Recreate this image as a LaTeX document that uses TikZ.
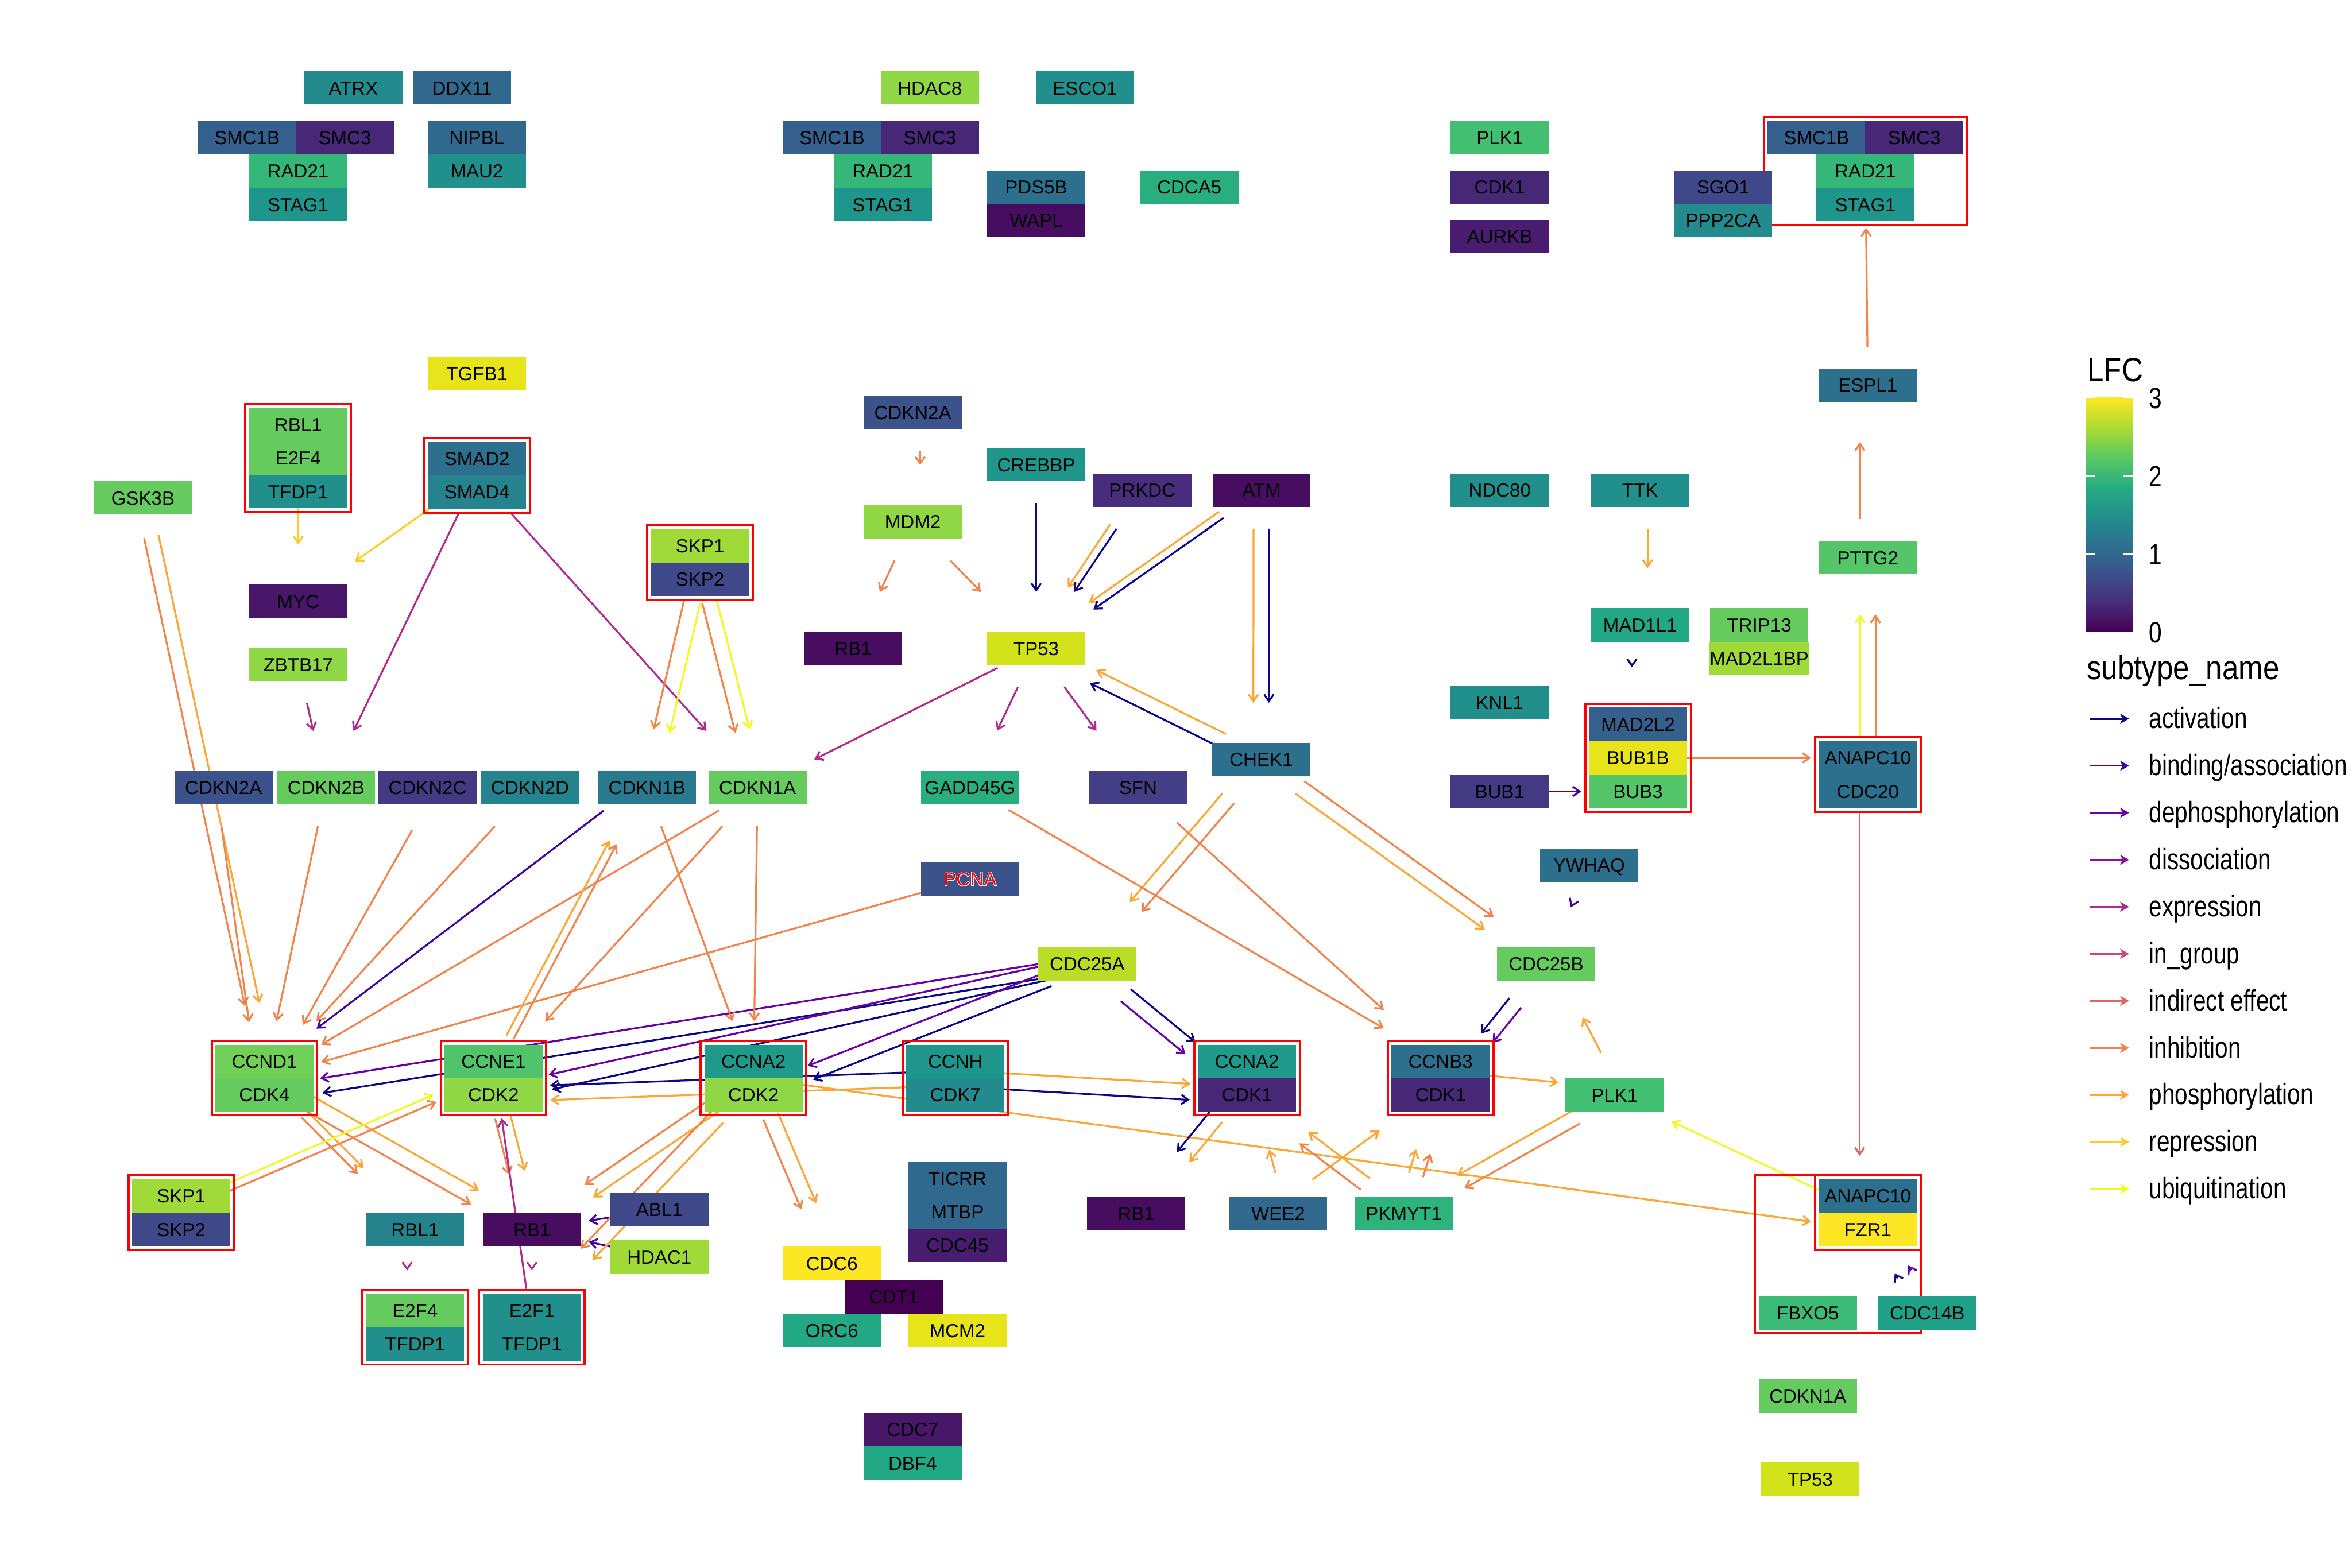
\documentclass[tikz,border=0pt]{standalone}
\usepackage{fontspec}
\setmainfont{Liberation Sans}
\newfontfamily\legtitlefont[FakeStretch=0.87]{Liberation Sans}
\newfontfamily\legfont[FakeStretch=0.79]{Liberation Sans}
\newfontfamily\halofont[FakeBold=6]{Liberation Sans}
\usetikzlibrary{arrows.meta,calc,fit}
\pgfdeclarelayer{bglayer}
\pgfdeclarelayer{edgelayer}
\pgfsetlayers{bglayer,edgelayer,main}
\definecolor{vir00}{HTML}{440154}
\definecolor{vir01}{HTML}{470D60}
\definecolor{vir02}{HTML}{481769}
\definecolor{vir03}{HTML}{481C6E}
\definecolor{vir04}{HTML}{472877}
\definecolor{vir05}{HTML}{472D7B}
\definecolor{vir06}{HTML}{443983}
\definecolor{vir07}{HTML}{433E85}
\definecolor{vir08}{HTML}{3F4889}
\definecolor{vir09}{HTML}{3B528B}
\definecolor{vir10}{HTML}{355F8D}
\definecolor{vir11}{HTML}{31688E}
\definecolor{vir12}{HTML}{2D708E}
\definecolor{vir13}{HTML}{297A8E}
\definecolor{vir14}{HTML}{25838E}
\definecolor{vir15}{HTML}{238A8D}
\definecolor{vir16}{HTML}{21908D}
\definecolor{vir17}{HTML}{1F968B}
\definecolor{vir18}{HTML}{1F9A8A}
\definecolor{vir19}{HTML}{1FA088}
\definecolor{vir20}{HTML}{22A884}
\definecolor{vir21}{HTML}{29AF7F}
\definecolor{vir22}{HTML}{2EB37C}
\definecolor{vir23}{HTML}{35B779}
\definecolor{vir24}{HTML}{3BBB75}
\definecolor{vir25}{HTML}{43BF71}
\definecolor{vir26}{HTML}{50C46A}
\definecolor{vir27}{HTML}{54C568}
\definecolor{vir28}{HTML}{65CB5E}
\definecolor{vir29}{HTML}{70CF57}
\definecolor{vir30}{HTML}{8FD744}
\definecolor{vir31}{HTML}{A0DA39}
\definecolor{vir32}{HTML}{BADE28}
\definecolor{vir33}{HTML}{D2E21B}
\definecolor{vir34}{HTML}{E7E419}
\definecolor{vir35}{HTML}{FDE725}
\definecolor{cb0}{HTML}{440154}
\definecolor{cb1}{HTML}{472D7B}
\definecolor{cb2}{HTML}{3B528B}
\definecolor{cb3}{HTML}{2C728E}
\definecolor{cb4}{HTML}{21918C}
\definecolor{cb5}{HTML}{28AE80}
\definecolor{cb6}{HTML}{5EC962}
\definecolor{cb7}{HTML}{ADDC30}
\definecolor{cb8}{HTML}{FDE725}
\definecolor{actc}{HTML}{0D0887}
\definecolor{bindc}{HTML}{41049D}
\definecolor{dephc}{HTML}{6A00A8}
\definecolor{dissc}{HTML}{8F0DA4}
\definecolor{exprc}{HTML}{B12A90}
\definecolor{ingrc}{HTML}{CC4778}
\definecolor{indc}{HTML}{E16462}
\definecolor{inhc}{HTML}{F2844B}
\definecolor{phosc}{HTML}{FCA636}
\definecolor{repc}{HTML}{FCCE25}
\definecolor{ubqc}{HTML}{F0F921}
\tikzset{
  gene/.style={rectangle,minimum width=1.308cm,minimum height=0.446cm,inner sep=0pt,outer sep=0pt,
    text height=5.15pt,text depth=0pt,font=\fontsize{7.2}{8}\selectfont},
  grp/.style={rectangle,draw=red,line width=0.85pt,inner sep=0.05cm},
  lane/.store in=\lanesep, lane=0pt,
  link/.style={line width=0.7pt,-{Straight Barb[length=2.6pt,width=3.6pt]},
    to path={let \p1=(\tikztostart), \p2=(\tikztotarget),
      \p4=($(\p1)!\lanesep!90:(\p2)$), \p5=($(\p2)!\lanesep!-90:(\p1)$),
      \n1={veclen(\x2-\x1,\y2-\y1)/max(abs(\x2-\x1),abs(\y2-\y1))}
      in ($(\p4)!{14.63pt*\n1}!(\p5)$) -- ($(\p5)!{21.54pt*\n1}!(\p4)$)}},
  eact/.style={draw=actc},
  ebind/.style={draw=bindc},
  edeph/.style={draw=dephc},
  ediss/.style={draw=dissc},
  eexpr/.style={draw=exprc},
  eingr/.style={draw=ingrc},
  eind/.style={draw=indc},
  einh/.style={draw=inhc},
  ephos/.style={draw=phosc},
  erep/.style={draw=repc},
  eubq/.style={draw=ubqc},
  legarr/.style={line width=0.75pt,-{Stealth[length=3.4pt,width=3.8pt,inset=0.9pt]}},
  legtext/.style={anchor=base west,inner sep=0pt,font={\legfont\fontsize{11.2}{13}\selectfont}},
  legtitle/.style={anchor=base west,inner sep=0pt,font={\legtitlefont\fontsize{12.8}{14}\selectfont}}
}
\begin{document}
\begin{tikzpicture}[x=0.02cm,y=-0.02cm]
\useasboundingbox (0,0) rectangle (1568,1045.3);
\begin{pgfonlayer}{bglayer}
\fill[white] (0,0) rectangle (1568,1045.3);
\end{pgfonlayer}

\node[gene,fill=vir15] (atrx) at (235.6,58.7) {ATRX};
\node[gene,fill=vir11] (ddx11) at (308,58.7) {DDX11};
\node[gene,fill=vir10] (smc1bL) at (164.7,91.7) {SMC1B};
\node[gene,fill=vir04] (smc3L) at (229.9,91.7) {SMC3};
\node[gene,fill=vir23] (rad21L) at (198.7,114.1) {RAD21};
\node[gene,fill=vir17] (stag1L) at (198.7,136.4) {STAG1};
\node[gene,fill=vir11] (nipbl) at (317.9,91.7) {NIPBL};
\node[gene,fill=vir16] (mau2) at (317.9,114.1) {MAU2};
\node[gene,fill=vir30] (hdac8) at (619.9,58.7) {HDAC8};
\node[gene,fill=vir16] (esco1) at (723.3,58.7) {ESCO1};
\node[gene,fill=vir10] (smc1bM) at (554.7,91.7) {SMC1B};
\node[gene,fill=vir04] (smc3M) at (619.9,91.7) {SMC3};
\node[gene,fill=vir23] (rad21M) at (588.6,114.1) {RAD21};
\node[gene,fill=vir17] (stag1M) at (588.6,136.4) {STAG1};
\node[gene,fill=vir12] (pds5b) at (690.8,124.7) {PDS5B};
\node[gene,fill=vir01] (wapl) at (690.8,147) {WAPL};
\node[gene,fill=vir21] (cdca5) at (792.9,124.7) {CDCA5};
\node[gene,fill=vir25] (plk1T) at (999.8,91.7) {PLK1};
\node[gene,fill=vir04] (cdk1T) at (999.8,124.7) {CDK1};
\node[gene,fill=vir03] (aurkb) at (999.8,157.7) {AURKB};
\node[gene,fill=vir10] (smc1bR) at (1211,91.7) {SMC1B};
\node[gene,fill=vir04] (smc3R) at (1276.2,91.7) {SMC3};
\node[gene,fill=vir23] (rad21R) at (1243.6,114.1) {RAD21};
\node[gene,fill=vir17] (stag1R) at (1243.6,136.4) {STAG1};
\node[gene,fill=vir12] (espl1) at (1245.2,256.9) {ESPL1};
\node[gene,fill=vir27] (pttg2) at (1245.2,371.8) {PTTG2};

\node[gene,fill=vir34] (tgfb1) at (318,249) {TGFB1};
\node[gene,fill=vir28] (rbl1T) at (198.8,283.2) {RBL1};
\node[gene,fill=vir28] (e2f4T) at (198.8,305.5) {E2F4};
\node[gene,fill=vir16] (tfdp1T) at (198.8,327.8) {TFDP1};
\node[gene,fill=vir12] (smad2) at (318,305.8) {SMAD2};
\node[gene,fill=vir14] (smad4) at (318,328.1) {SMAD4};
\node[gene,fill=vir28] (gsk3b) at (95.3,332) {GSK3B};
\node[gene,fill=vir02] (myc) at (198.8,401) {MYC};
\node[gene,fill=vir30] (zbtb17) at (198.8,443) {ZBTB17};
\node[gene,fill=vir31] (skp1T) at (466.7,364) {SKP1};
\node[gene,fill=vir08] (skp2T) at (466.7,386.3) {SKP2};
\node[gene,fill=vir09] (cdkn2aT) at (608.5,275.3) {CDKN2A};
\node[gene,fill=vir17] (crebbp) at (690.8,309.8) {CREBBP};
\node[gene,fill=vir05] (prkdc) at (761.5,326.8) {PRKDC};
\node[gene,fill=vir01] (atm) at (841,326.8) {ATM};
\node[gene,fill=vir30] (mdm2) at (608.5,348) {MDM2};
\node[gene,fill=vir01] (rb1T) at (568.7,432.5) {RB1};
\node[gene,fill=vir33] (tp53) at (690.8,432.5) {TP53};
\node[gene,fill=vir12] (chek1) at (840.8,506.5) {CHEK1};
\node[gene,fill=vir09] (cdkn2a) at (149,525.2) {CDKN2A};
\node[gene,fill=vir28] (cdkn2b) at (217.4,525.2) {CDKN2B};
\node[gene,fill=vir06] (cdkn2c) at (285,525.2) {CDKN2C};
\node[gene,fill=vir14] (cdkn2d) at (353.4,525.2) {CDKN2D};
\node[gene,fill=vir13] (cdkn1b) at (431.3,525.2) {CDKN1B};
\node[gene,fill=vir28] (cdkn1a) at (505,525.2) {CDKN1A};
\node[gene,fill=vir21] (gadd45g) at (646.7,525) {GADD45G};
\node[gene,fill=vir07] (sfn) at (758.7,525) {SFN};
\node[gene,fill=vir09] (pcna) at (646.7,586) {\makebox[0pt]{\color{white}\halofont PCNA}\makebox[0pt]{\color{red}PCNA}};

\node[gene,fill=vir16] (ndc80) at (999.8,326.9) {NDC80};
\node[gene,fill=vir16] (ttk) at (1093.4,326.9) {TTK};
\node[gene,fill=vir20] (mad1l1) at (1093.4,416.7) {MAD1L1};
\node[gene,fill=vir28] (trip13) at (1172.8,416.7) {TRIP13};
\node[gene,fill=vir31] (mad2l1bp) at (1172.8,439.1) {MAD2L1BP};
\node[gene,fill=vir16] (knl1) at (999.8,468.4) {KNL1};
\node[gene,fill=vir10] (mad2l2) at (1092,482.9) {MAD2L2};
\node[gene,fill=vir34] (bub1b) at (1092,505.3) {BUB1B};
\node[gene,fill=vir27] (bub3) at (1092,527.7) {BUB3};
\node[gene,fill=vir06] (bub1) at (999.8,527.7) {BUB1};
\node[gene,fill=vir12] (anapc10A) at (1245.2,505.3) {ANAPC10};
\node[gene,fill=vir12] (cdc20) at (1245.2,527.7) {CDC20};
\node[gene,fill=vir12] (ywhaq) at (1059.4,576.9) {YWHAQ};
\node[gene,fill=vir28] (cdc25b) at (1030.7,642.8) {CDC25B};
\node[gene,fill=vir32] (cdc25a) at (724.8,642.6) {CDC25A};

\node[gene,fill=vir29] (ccnd1) at (176.3,707.7) {CCND1};
\node[gene,fill=vir28] (cdk4) at (176.3,729.9) {CDK4};
\node[gene,fill=vir26] (ccne1) at (329,707.7) {CCNE1};
\node[gene,fill=vir30] (cdk2E) at (329,729.9) {CDK2};
\node[gene,fill=vir18] (ccna2A) at (502.3,707.7) {CCNA2};
\node[gene,fill=vir30] (cdk2A) at (502.3,729.9) {CDK2};
\node[gene,fill=vir17] (ccnh) at (636.9,707.7) {CCNH};
\node[gene,fill=vir15] (cdk7) at (636.9,729.9) {CDK7};
\node[gene,fill=vir18] (ccna2B) at (831.3,707.7) {CCNA2};
\node[gene,fill=vir04] (cdk1B) at (831.3,729.9) {CDK1};
\node[gene,fill=vir12] (ccnb3) at (960.4,707.7) {CCNB3};
\node[gene,fill=vir04] (cdk1C) at (960.4,729.9) {CDK1};
\node[gene,fill=vir25] (plk1) at (1076.4,730.1) {PLK1};

\node[gene,fill=vir31] (skp1) at (120.8,797.4) {SKP1};
\node[gene,fill=vir08] (skp2) at (120.8,819.7) {SKP2};
\node[gene,fill=vir14] (rbl1) at (276.7,819.8) {RBL1};
\node[gene,fill=vir01] (rb1) at (354.6,819.8) {RB1};
\node[gene,fill=vir08] (abl1) at (439.6,806.6) {ABL1};
\node[gene,fill=vir31] (hdac1) at (439.6,838.2) {HDAC1};
\node[gene,fill=vir28] (e2f4) at (276.7,873.8) {E2F4};
\node[gene,fill=vir16] (tfdp1E) at (276.7,896.1) {TFDP1};
\node[gene,fill=vir16] (e2f1) at (354.6,873.8) {E2F1};
\node[gene,fill=vir16] (tfdp1F) at (354.6,896.1) {TFDP1};
\node[gene,fill=vir11] (ticrr) at (638.3,785.7) {TICRR};
\node[gene,fill=vir11] (mtbp) at (638.3,808) {MTBP};
\node[gene,fill=vir03] (cdc45) at (638.3,830.3) {CDC45};
\node[gene,fill=vir35] (cdc6) at (554.6,842.3) {CDC6};
\node[gene,fill=vir00] (cdt1) at (595.8,864.7) {CDT1};
\node[gene,fill=vir20] (orc6) at (554.6,887.1) {ORC6};
\node[gene,fill=vir34] (mcm2) at (638.3,887.1) {MCM2};
\node[gene,fill=vir02] (cdc7) at (608.4,953.2) {CDC7};
\node[gene,fill=vir20] (dbf4) at (608.4,975.5) {DBF4};
\node[gene,fill=vir01] (rb1R) at (757.4,809) {RB1};
\node[gene,fill=vir11] (wee2) at (852.1,809) {WEE2};
\node[gene,fill=vir22] (pkmyt1) at (935.8,809) {PKMYT1};
\node[gene,fill=vir12] (anapc10B) at (1245.2,797.4) {ANAPC10};
\node[gene,fill=vir35] (fzr1) at (1245.2,819.7) {FZR1};
\node[gene,fill=vir24] (fbxo5) at (1205.2,875.3) {FBXO5};
\node[gene,fill=vir28] (cdkn1aB) at (1205.2,930.8) {CDKN1A};
\node[gene,fill=vir33] (tp53B) at (1206.8,986.3) {TP53};

\node[grp,fit=(smc1bR)(smc3R)(rad21R)(stag1R)] (gcohR) {};
\node[grp,fit=(rbl1T)(e2f4T)(tfdp1T)] (grbl) {};
\node[grp,fit=(smad2)(smad4)] (gsmad) {};
\node[grp,fit=(skp1T)(skp2T)] (gskpT) {};
\node[grp,fit=(mad2l2)(bub1b)(bub3)] (gbub) {};
\node[grp,fit=(anapc10A)(cdc20)] (gapc) {};
\node[grp,fit=(ccnd1)(cdk4)] (gD) {};
\node[grp,fit=(ccne1)(cdk2E)] (gE) {};
\node[grp,fit=(ccna2A)(cdk2A)] (gA) {};
\node[grp,fit=(ccnh)(cdk7)] (gH) {};
\node[grp,fit=(ccna2B)(cdk1B)] (gB) {};
\node[grp,fit=(ccnb3)(cdk1C)] (gC) {};
\node[grp,fit=(skp1)(skp2)] (gskpL) {};
\node[grp,fit=(e2f4)(tfdp1E)] (ge2f4) {};
\node[grp,fit=(e2f1)(tfdp1F)] (gef1) {};
\node[grp,fit=(anapc10B)(fzr1)] (gfzr) {};
\node[grp,fit=(anapc10B)(fzr1)(fbxo5)] (gfzrbig) {};

\node[gene,fill=vir08] (sgo1) at (1148.7,124.7) {SGO1};
\node[gene,fill=vir15] (ppp2ca) at (1148.7,147) {PPP2CA};
\node[gene,fill=vir19] (cdc14b) at (1284.8,875.3) {CDC14B};

\begin{pgfonlayer}{edgelayer}
\draw[link,einh,lane=3pt] (pttg2.center) to (espl1.center);
\draw[link,einh] (espl1.center) to (gcohR.center);
\draw[link,ephos,lane=2.8pt] (ttk.center) to (mad1l1.center);
\draw[link,eact,lane=-2.8pt] (mad1l1.center) to (mad2l2.center);
\draw[link,ebind] (bub1.center) to (bub3.center);
\draw[link,einh] (bub1b.center) to (anapc10A.center);
\draw[link,eubq,lane=2.9pt] (gapc.center) to (pttg2.center);
\draw[link,einh,lane=-2.9pt] (gapc.center) to (pttg2.center);
\draw[link,eind,lane=-3.1pt] (gapc.center) to (gfzr.center);
\draw[link,eubq] (gfzr.center) to (plk1.center);
\draw[link,eact,lane=3pt] (cdc14b.center) to (gfzr.center);
\draw[link,edeph,lane=-3pt] (cdc14b.center) to (gfzr.center);

\draw[link,einh,lane=2.8pt] (cdkn2aT.center) to (mdm2.center);
\draw[link,einh] (mdm2.center) to (rb1T.center);
\draw[link,einh] (mdm2.center) to (tp53.center);
\draw[link,eact] (crebbp.center) to (tp53.center);
\draw[link,ephos,lane=-2.9pt] (prkdc.center) to (tp53.center);
\draw[link,eact] (prkdc.center) to (tp53.center);
\draw[link,ephos,lane=-2.6pt] (atm.center) to (tp53.center);
\draw[link,eact,lane=0.3pt] (atm.center) to (tp53.center);
\draw[link,eact,lane=2.9pt] (atm.center) to (chek1.center);
\draw[link,ephos,lane=-3pt] (atm.center) to (chek1.center);
\draw[link,eexpr] (tp53.center) to (cdkn1a.center);
\draw[link,eexpr] (tp53.center) to (gadd45g.center);
\draw[link,eexpr] (tp53.center) to (sfn.center);
\draw[link,eact,lane=2.7pt] (chek1.center) to (tp53.center);
\draw[link,ephos,lane=-2.8pt] (chek1.center) to (tp53.center);
\draw[link,ephos,lane=-2.9pt] (chek1.center) to (cdc25a.center);
\draw[link,einh,lane=2.9pt] (chek1.center) to (cdc25a.center);
\draw[link,einh,lane=2.9pt] (chek1.center) to (cdc25b.center);
\draw[link,ephos,lane=-2.9pt] (chek1.center) to (cdc25b.center);
\draw[link,einh] (gadd45g.center) to (ccnb3.center);
\draw[link,einh] (sfn.center) to (ccnb3.center);
\draw[link,ebind] (ywhaq.center) to (cdc25b.center);

\draw[link,erep] (grbl.center) to (myc.center);
\draw[link,erep] (gsmad.center) to (myc.center);
\draw[link,eexpr] (gsmad.center) to (cdkn2b.center);
\draw[link,eexpr] (gsmad.center) to (cdkn1a.center);
\draw[link,eexpr] (zbtb17.center) to (cdkn2b.center);
\draw[link,einh,lane=-2.6pt] (gskpT.center) to (cdkn1b.center);
\draw[link,eubq,lane=3.6pt] (gskpT.center) to (cdkn1b.center);
\draw[link,einh,lane=-3pt] (gskpT.center) to (cdkn1a.center);
\draw[link,eubq,lane=2.6pt] (gskpT.center) to (cdkn1a.center);
\draw[link,einh,lane=-2.8pt] (gsk3b.center) to (ccnd1.center);
\draw[link,ephos,lane=2.8pt] (gsk3b.center) to (ccnd1.center);
\draw[link,einh,lane=-2.8pt] (cdkn2a.center) to (gD.center);
\draw[link,einh] (cdkn2b.center) to (gD.center);
\draw[link,einh,lane=2.8pt] (cdkn2c.center) to (gD.center);
\draw[link,einh] (cdkn2d.center) to (gD.center);
\draw[link,ebind,lane=-3pt] (cdkn1b.center) to (gD.center);
\draw[link,einh] (cdkn1a.center) to (gD.center);
\draw[link,einh] (pcna.center) to (gD.center);
\draw[link,edeph,lane=-2.8pt] (cdc25a.center) to (cdk4.center);
\draw[link,eact,lane=2.8pt] (cdc25a.center) to (cdk4.center);
\draw[link,edeph,lane=-2.9pt] (cdc25a.center) to (cdk2E.center);
\draw[link,eact,lane=2.8pt] (cdc25a.center) to (cdk2E.center);
\draw[link,edeph,lane=-2.7pt] (cdc25a.center) to (cdk2A.center);
\draw[link,eact,lane=2.9pt] (cdc25a.center) to (cdk2A.center);
\draw[link,eact,lane=3pt] (cdc25a.center) to (cdk1B.center);
\draw[link,edeph,lane=-2.9pt] (cdc25a.center) to (cdk1B.center);
\draw[link,eact,lane=-2.7pt] (cdc25b.center) to (cdk1C.center);
\draw[link,edeph,lane=3pt] (cdc25b.center) to (cdk1C.center);
\draw[link,einh] (cdkn1b.center) to (gA.center);
\draw[link,einh] (cdkn1a.center) to (gA.center);
\draw[link,einh] (cdkn1a.center) to (gE.center);
\draw[link,ephos,lane=3.2pt] (gE.center) to (cdkn1b.center);
\draw[link,einh,lane=0.2pt] (gE.center) to (cdkn1b.center);
\draw[link,einh,lane=-3.2pt] (gE.center) to (rb1.center);
\draw[link,ephos,lane=2.8pt] (gE.center) to (rb1.center);
\draw[link,einh,lane=-0.5pt] (gD.center) to (rbl1.center);
\draw[link,ephos,lane=2.6pt] (gD.center) to (rbl1.center);
\draw[link,ephos,lane=3pt] (gD.center) to (rb1.center);
\draw[link,einh,lane=-3.1pt] (gD.center) to (rb1.center);
\draw[link,eubq,lane=3.2pt] (gskpL.center) to (gE.center);
\draw[link,einh,lane=0.3pt] (gskpL.center) to (gE.center);
\draw[link,eexpr] (gef1.center) to (ccne1.center);
\draw[link,eexpr,lane=-3pt] (rbl1.center) to (ge2f4.center);
\draw[link,eexpr] (rb1.center) to (gef1.center);
\draw[link,ebind] (abl1.center) to (rb1.center);
\draw[link,ebind] (hdac1.center) to (rb1.center);
\draw[link,einh,lane=-2.7pt] (gA.center) to (rb1.center);
\draw[link,ephos,lane=3pt] (gA.center) to (rb1.center);
\draw[link,einh,lane=-2.8pt] (gA.center) to (e2f1.center);
\draw[link,ephos,lane=3.4pt] (gA.center) to (e2f1.center);
\draw[link,einh,lane=-2.7pt] (gA.center) to (cdc6.center);
\draw[link,ephos,lane=3.4pt] (gA.center) to (cdc6.center);
\draw[link,ephos] (gA.center) to (fzr1.center);
\draw[link,eact,lane=-2.8pt] (gH.center) to (cdk2E.center);
\draw[link,ephos,lane=2.8pt] (gH.center) to (cdk2E.center);
\draw[link,ephos,lane=2.9pt] (gH.center) to (cdk1B.center);
\draw[link,eact,lane=-3.2pt] (gH.center) to (cdk1B.center);
\draw[link,eact,lane=-2.8pt] (gB.center) to (rb1R.center);
\draw[link,ephos,lane=3.3pt] (gB.center) to (rb1R.center);
\draw[link,ephos,lane=-2.9pt] (wee2.center) to (cdk1B.center);
\draw[link,ephos,lane=2.7pt] (wee2.center) to (cdk1C.center);
\draw[link,ephos,lane=-2.8pt] (pkmyt1.center) to (cdk1B.center);
\draw[link,einh,lane=2.7pt] (pkmyt1.center) to (cdk1B.center);
\draw[link,ephos,lane=2.7pt] (pkmyt1.center) to (cdk1C.center);
\draw[link,einh,lane=-2.9pt] (pkmyt1.center) to (cdk1C.center);
\draw[link,ephos,lane=-2.6pt] (plk1.center) to (pkmyt1.center);
\draw[link,einh,lane=3pt] (plk1.center) to (pkmyt1.center);
\draw[link,ephos,lane=-2.9pt] (plk1.center) to (cdc25b.center);
\draw[link,ephos,lane=2.7pt] (gC.center) to (plk1.center);
\end{pgfonlayer}

\node[legtitle] (lfctitle) at (1391.3,254.2) {LFC};
\foreach \lo/\hi [count=\i from 0] in {cb0/cb1,cb1/cb2,cb2/cb3,cb3/cb4,cb4/cb5,cb5/cb6,cb6/cb7,cb7/cb8}
  \shade[bottom color=\lo,top color=\hi] (1390.4,{421.4-19.5*\i}) rectangle (1421.7,{421.4-19.5*\i-19.8});
\foreach \v in {0,1,2,3}{
  \draw[white,line width=0.5pt] (1390.4,{421.4-52*\v}) -- ++(6.2,0) (1415.5,{421.4-52*\v}) -- ++(6.2,0);
  \node[legtext] (tick\v) at (1432.3,{428.5-52*\v}) {\v};
}
\node[legtitle] (subtitle) at (1390.9,452.9) {subtype\_name};
\foreach \kind/\lab [count=\i from 0] in {eact/activation,ebind/{binding/association},edeph/dephosphorylation,ediss/dissociation,eexpr/expression,eingr/{in\_group},eind/{indirect effect},einh/inhibition,ephos/phosphorylation,erep/repression,eubq/ubiquitination}{
  \draw[legarr,\kind] (1393.4,{479.2+31.35*\i}) -- (1419.4,{479.2+31.35*\i});
  \node[legtext] (key\i) at (1432.3,{485.7+31.35*\i}) {\lab};
}
\end{tikzpicture}
\end{document}
